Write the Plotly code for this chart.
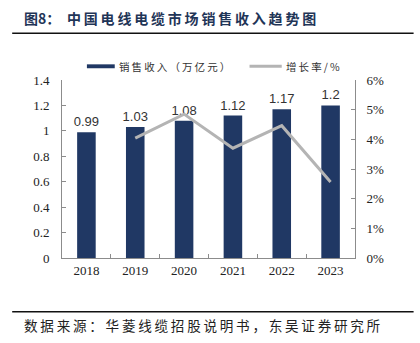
import plotly.graph_objects as go

# Market revenue of China's wire & cable industry and its yearly growth
years = ["2018", "2019", "2020", "2021", "2022", "2023"]
revenue = [0.99, 1.03, 1.08, 1.12, 1.17, 1.2]          # 万亿元
growth_years = ["2019", "2020", "2021", "2022", "2023"]
growth = [0.0404, 0.0485, 0.0370, 0.0446, 0.0256]      # 增长率

title_label = "图8："
title_text = "中国电线电缆市场销售收入趋势图"
source_text = "数据来源：华菱线缆招股说明书，东吴证券研究所"
bar_name = "销售收入（万亿元）"
line_name = "增长率/%"

NAVY = "#203864"
GREY = "#b4b4b4"
AXIS = "#8c8c8c"
SERIF = "Liberation Serif, Times New Roman, serif"
SANS = "Liberation Sans, Arial, sans-serif"
CJK = "Noto Sans CJK SC, sans-serif"


def spaced(s):
    """Open up CJK text a little with thin spaces between glyphs."""
    return "\u2009".join(s)


fig = go.Figure()

fig.add_trace(go.Bar(
    x=years, y=revenue, name=bar_name,
    marker=dict(color=NAVY, line=dict(width=0)),
    text=[f"{v:g}" for v in revenue], textposition="outside",
    constraintext="none",
    textfont=dict(family=SANS, size=13, color="#333333"),
    cliponaxis=False, showlegend=False,
))

fig.add_trace(go.Scatter(
    x=growth_years, y=growth, name=line_name, yaxis="y2",
    mode="lines", line=dict(color=GREY, width=3),
    showlegend=False,
))

fig.update_layout(
    width=420, height=343,
    margin=dict(l=62, r=65, t=80, b=85),
    paper_bgcolor="white", plot_bgcolor="white",
    bargap=0.62,
    xaxis=dict(
        type="category", showline=True, linecolor=AXIS, linewidth=1,
        ticks="inside", ticklen=4, tickcolor=AXIS, tickson="boundaries",
        tickfont=dict(family=SERIF, size=13, color="#222222"),
        showgrid=False, zeroline=False,
    ),
    yaxis=dict(
        range=[0, 1.4], dtick=0.2, showline=True, linecolor=AXIS, linewidth=1,
        ticks="inside", ticklen=4, tickcolor=AXIS,
        tickfont=dict(family=SERIF, size=13, color="#222222"),
        showgrid=False, zeroline=False, ticklabelstandoff=9,
    ),
    yaxis2=dict(
        overlaying="y", side="right", range=[0, 0.06], dtick=0.01,
        tickformat=".0%", showline=True, linecolor=AXIS, linewidth=1,
        ticks="inside", ticklen=4, tickcolor=AXIS,
        tickfont=dict(family=SERIF, size=13, color="#222222"),
        showgrid=False, zeroline=False, ticklabelstandoff=8,
    ),
    shapes=[
        # rules above and below the chart body
        dict(type="line", xref="paper", yref="paper", x0=-0.17, x1=1.2,
             y0=1.262, y1=1.262, line=dict(color="#111111", width=1.5)),
        dict(type="line", xref="paper", yref="paper", x0=-0.17, x1=1.2,
             y0=-0.302, y1=-0.302, line=dict(color="#111111", width=1.5)),
        # legend swatches
        dict(type="rect", xref="paper", yref="paper", x0=0.085, x1=0.18,
             y0=1.066, y1=1.088, fillcolor=NAVY, line=dict(width=0)),
        dict(type="line", xref="paper", yref="paper", x0=0.64, x1=0.75,
             y0=1.077, y1=1.077, line=dict(color=GREY, width=3)),
    ],
    annotations=[
        dict(text=f"<b>{title_label}</b>", xref="paper", yref="paper",
             x=-0.138, y=1.348, xanchor="left", yanchor="middle", showarrow=False,
             font=dict(family=CJK, size=14, color="#1f3557")),
        dict(text=f"<b>{spaced(title_text)}</b>", xref="paper", yref="paper",
             x=0.01, y=1.348, xanchor="left", yanchor="middle", showarrow=False,
             font=dict(family=CJK, size=14, color="#1f3557")),
        dict(text=spaced(bar_name), xref="paper", yref="paper", x=0.188, y=1.077,
             xanchor="left", yanchor="middle", showarrow=False,
             font=dict(family=CJK, size=10.5, color="#333333")),
        dict(text=spaced(line_name), xref="paper", yref="paper", x=0.758, y=1.077,
             xanchor="left", yanchor="middle", showarrow=False,
             font=dict(family=CJK, size=10.5, color="#333333")),
        dict(text=spaced(source_text), xref="paper", yref="paper", x=-0.138, y=-0.376,
             xanchor="left", yanchor="middle", showarrow=False,
             font=dict(family=CJK, size=13.6, color="#222222")),
    ],
)

fig.write_html("out.html")
